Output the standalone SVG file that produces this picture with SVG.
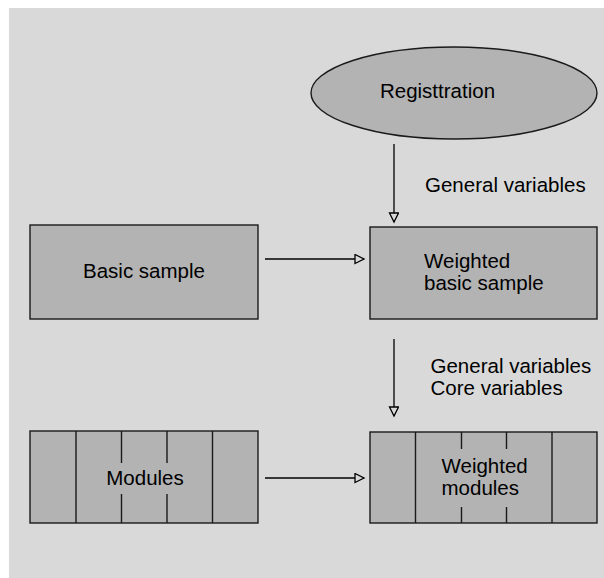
<svg xmlns="http://www.w3.org/2000/svg" width="604" height="578" viewBox="0 0 604 578">
  <style>
    .node { fill: #b3b3b3; stroke: #1a1a1a; stroke-width: 1.4; }
    .div { stroke: #1a1a1a; stroke-width: 1.4; fill: none; }
    .label { font-family: "Liberation Sans", Arial, sans-serif; font-size: 20.5px; fill: #000; }
    .mid { text-anchor: middle; }
    .edge { stroke: #000; stroke-width: 1.3; fill: none; }
  </style>
  <defs>
    <marker id="open-tri" markerWidth="12" markerHeight="12" refX="10" refY="5" orient="auto" markerUnits="userSpaceOnUse">
      <path d="M1,0.5 L10,5 L1,9.5 Z" fill="#d9d9d9" stroke="#000" stroke-width="1.3"/>
    </marker>
  </defs>

  <!-- panel -->
  <rect x="9" y="8" width="595" height="570" fill="#d9d9d9"/>

  <g id="registration">
    <ellipse class="node" cx="454" cy="93" rx="143" ry="46"/>
    <text class="label mid" x="437.5" y="98">Registtration</text>
  </g>

  <g id="basic-sample">
    <rect class="node" x="30" y="225" width="228" height="94"/>
    <text class="label mid" x="144" y="278">Basic sample</text>
  </g>

  <g id="weighted-basic-sample">
    <rect class="node" x="370" y="227" width="227" height="92"/>
    <text class="label" x="424" y="268">Weighted</text>
    <text class="label" x="424" y="290">basic sample</text>
  </g>

  <g id="modules">
    <rect class="node" x="30" y="431" width="228" height="92"/>
    <path class="div" d="M76,431 V523 M212.5,431 V523 M121.5,431 V463 M121.5,494 V523 M167,431 V463 M167,494 V523"/>
    <text class="label mid" x="145" y="485">Modules</text>
  </g>

  <g id="weighted-modules">
    <rect class="node" x="370" y="432" width="227" height="91"/>
    <path class="div" d="M415.5,432 V523 M552,432 V523 M461.5,432 V449 M461.5,507 V523 M506.5,432 V449 M506.5,507 V523"/>
    <text class="label" x="441.5" y="473">Weighted</text>
    <text class="label" x="441.5" y="495">modules</text>
  </g>

  <g id="connectors">
    <line class="edge" x1="394" y1="144" x2="394" y2="222" marker-end="url(#open-tri)"/>
    <text class="label" x="425" y="192">General variables</text>
    <line class="edge" x1="265" y1="259" x2="364" y2="259" marker-end="url(#open-tri)"/>
    <line class="edge" x1="394" y1="339" x2="394" y2="416" marker-end="url(#open-tri)"/>
    <text class="label" x="430.5" y="373">General variables</text>
    <text class="label" x="430.5" y="395">Core variables</text>
    <line class="edge" x1="265" y1="478" x2="364" y2="478" marker-end="url(#open-tri)"/>
  </g>
</svg>
